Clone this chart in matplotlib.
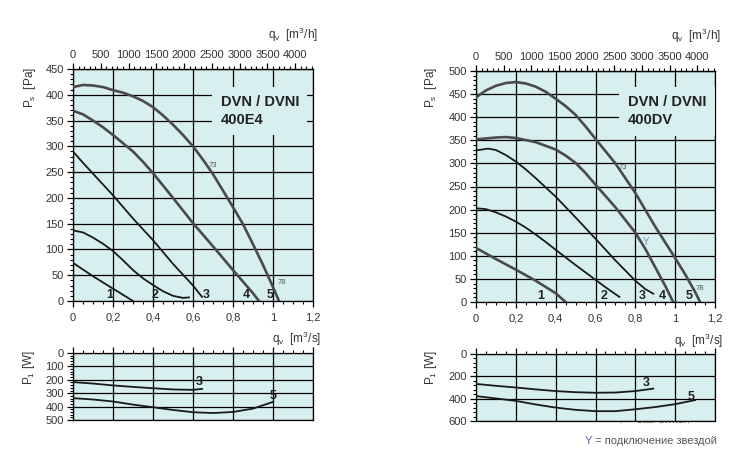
import matplotlib
matplotlib.use("Agg")
import numpy as np
import matplotlib.pyplot as plt
from matplotlib.ticker import MultipleLocator, FuncFormatter

plt.rcParams['font.family'] = ['Liberation Sans', 'DejaVu Sans']

# --- DVN / DVNI 400E4 (left) ---
e4_q1 = [0, 0.05, 0.1, 0.15, 0.2, 0.25, 0.3]
e4_p1 = [74, 61, 48, 36, 24, 12, 0]
e4_q2 = [0, 0.05, 0.1, 0.15, 0.2, 0.25, 0.3, 0.35, 0.4, 0.45, 0.5, 0.55, 0.58]
e4_p2 = [137, 133, 123, 111, 97, 79, 60, 44, 31, 19, 10, 6, 7]
e4_q3 = [0, 0.05, 0.1, 0.15, 0.2, 0.3, 0.4, 0.5, 0.6, 0.645]
e4_p3 = [290, 268, 247, 226, 205, 160, 118, 72, 30, 8]
e4_q4 = [0, 0.05, 0.1, 0.15, 0.2, 0.25, 0.3, 0.35, 0.4, 0.5, 0.6, 0.7, 0.8, 0.9, 0.93]
e4_p4 = [369, 362, 350, 337, 322, 306, 290, 270, 248, 200, 151, 106, 60, 15, 0]
e4_q5 = [0, 0.05, 0.1, 0.15, 0.2, 0.25, 0.3, 0.35, 0.4, 0.45, 0.5, 0.55, 0.6,
         0.65, 0.7, 0.75, 0.8, 0.85, 0.9, 0.95, 1.0, 1.03]
e4_p5 = [415, 419, 418, 415, 409, 404, 397, 388, 376, 360, 342, 322, 300,
         274, 246, 214, 182, 149, 110, 70, 27, 0]

e4_pw_q3 = [0, 0.1, 0.2, 0.3, 0.4, 0.5, 0.6, 0.645]
e4_pw_3 = [217, 228, 242, 253, 263, 272, 275, 268]
e4_pw_q5 = [0, 0.1, 0.2, 0.3, 0.4, 0.5, 0.6, 0.7, 0.8, 0.9, 1.0]
e4_pw_5 = [337, 347, 362, 385, 405, 425, 442, 448, 440, 415, 365]

# --- DVN / DVNI 400DV (right) ---
dv_q1 = [0, 0.1, 0.2, 0.3, 0.4, 0.45]
dv_p1 = [117, 93, 70, 46, 19, 0]
dv_q2 = [0, 0.05, 0.1, 0.15, 0.2, 0.25, 0.3, 0.35, 0.4, 0.5, 0.6, 0.65, 0.72]
dv_p2 = [203, 201, 194, 185, 174, 161, 146, 130, 113, 80, 48, 32, 11]
dv_q3 = [0, 0.06, 0.1, 0.15, 0.2, 0.25, 0.3, 0.4, 0.5, 0.6, 0.7, 0.8, 0.85, 0.89]
dv_p3 = [328, 332, 329, 318, 304, 287, 268, 228, 183, 137, 90, 46, 28, 18]
dv_q4 = [0, 0.1, 0.15, 0.2, 0.3, 0.4, 0.45, 0.5, 0.55, 0.6, 0.7, 0.8, 0.85, 0.9, 0.95, 0.99]
dv_p4 = [352, 356, 357, 355, 346, 330, 317, 301, 279, 254, 205, 150, 115, 75, 35, 0]
dv_q5 = [0, 0.05, 0.1, 0.15, 0.2, 0.25, 0.3, 0.35, 0.4, 0.45, 0.5, 0.55, 0.6,
         0.7, 0.8, 0.9, 1.0, 1.05, 1.1, 1.125]
dv_p5 = [443, 458, 468, 474, 476, 473, 466, 455, 440, 424, 405, 380, 353,
         300, 236, 163, 95, 60, 22, 0]

dv_pw_q3 = [0, 0.1, 0.2, 0.3, 0.4, 0.5, 0.6, 0.7, 0.8, 0.89]
dv_pw_3 = [268, 285, 300, 317, 332, 342, 347, 345, 332, 310]
dv_pw_q5 = [0, 0.1, 0.2, 0.3, 0.4, 0.5, 0.6, 0.7, 0.8, 0.9, 1.0, 1.1]
dv_pw_5 = [377, 398, 420, 452, 480, 500, 512, 512, 495, 475, 449, 413]

BG = '#d7efee'
DARK = '#4a4a4a'
FS = 8
W, H = 752, 455


def fbox(x0, y0, x1, y1):
    # pixel box -> figure coords
    return [x0 / W, 1 - y1 / H, (x1 - x0) / W, (y1 - y0) / H]


comma = FuncFormatter(lambda v, p: f"{v:g}".replace('.', ','))


def main_panel(fig, box, ymax, title, tpos, curves, nums, small):
    ax = fig.add_axes(box)
    ax.set_facecolor(BG)
    ax.set_xlim(0, 1.2)
    ax.set_ylim(0, ymax)
    ax.xaxis.set_major_locator(MultipleLocator(0.2))
    ax.xaxis.set_minor_locator(MultipleLocator(0.05))
    ax.yaxis.set_major_locator(MultipleLocator(50))
    ax.yaxis.set_minor_locator(MultipleLocator(10))
    ax.xaxis.set_major_formatter(comma)
    ax.tick_params(which='major', direction='out', length=4.5, width=0.9,
                   labelsize=FS, pad=4, colors='black', labelcolor='#333333')
    ax.tick_params(which='minor', direction='out', length=2.4, width=0.8)
    ax.tick_params(axis='y', pad=2)
    ax.grid(True, which='major', color='black', lw=0.9)
    ax.set_axisbelow(True)
    for s in ax.spines.values():
        s.set_linewidth(0.9)
    for q, p, col, lw in curves:
        ax.plot(q, p, color=col, lw=lw, zorder=3, solid_joinstyle='round')
    for x, y, t in nums:
        ax.text(x, y, t, fontsize=FS + 1, fontweight='bold', color='#222222',
                ha='center', va='center', zorder=4)
    for x, y, t, c in small:
        ax.text(x, y, t, fontsize=5.5 if t != 'Y' else 7, color=c,
                ha='center', va='center', zorder=4)
    ax.text(tpos[0], tpos[1], title, transform=ax.transAxes, fontsize=10.5,
            fontweight='bold', color='#222222', ha='left', va='center',
            linespacing=1.35, zorder=5,
            bbox=dict(facecolor=BG, edgecolor='none', pad=6))
    top = ax.secondary_xaxis('top', functions=(lambda q: q * 3600, lambda h: h / 3600))
    top.xaxis.set_major_locator(MultipleLocator(500))
    top.xaxis.set_minor_locator(MultipleLocator(100))
    top.tick_params(which='major', direction='out', length=4.5, width=0.9,
                    labelsize=FS, pad=2, labelcolor='#333333')
    top.tick_params(which='minor', direction='out', length=2.4, width=0.8)
    return ax


def power_panel(fig, box, ymax, step, curves, nums):
    ax = fig.add_axes(box)
    ax.set_facecolor(BG)
    ax.set_xlim(0, 1.2)
    ax.set_ylim(ymax, 0)
    ax.xaxis.tick_top()
    ax.xaxis.set_major_locator(MultipleLocator(0.2))
    ax.xaxis.set_minor_locator(MultipleLocator(0.05))
    ax.yaxis.set_major_locator(MultipleLocator(step))
    ax.yaxis.set_minor_locator(MultipleLocator(step / 5))
    ax.tick_params(axis='x', which='both', labeltop=False, labelbottom=False)
    ax.tick_params(which='major', direction='out', length=4.5, width=0.9,
                   labelsize=FS, pad=2, labelcolor='#333333')
    ax.tick_params(which='minor', direction='out', length=2.4, width=0.8)
    ax.grid(True, which='major', color='black', lw=0.9)
    ax.set_axisbelow(True)
    for s in ax.spines.values():
        s.set_linewidth(0.9)
    for q, p in curves:
        ax.plot(q, p, color='#1a1a1a', lw=1.3, zorder=3)
    for x, y, t in nums:
        ax.text(x, y, t, fontsize=FS + 1, fontweight='bold', color='#222222',
                ha='center', va='center', zorder=4)
    return ax


fig = plt.figure(figsize=(W / 100, H / 100), dpi=100)

main_panel(fig, fbox(73, 69, 313, 301), 450, 'DVN / DVNI\n400E4', (0.615, 0.82),
           [(e4_q1, e4_p1, '#1a1a1a', 1.3), (e4_q2, e4_p2, '#1a1a1a', 1.3),
            (e4_q3, e4_p3, '#1a1a1a', 1.3), (e4_q4, e4_p4, DARK, 1.9),
            (e4_q5, e4_p5, DARK, 1.9)],
           [(0.185, 12, '1'), (0.41, 12, '2'), (0.665, 12, '3'),
            (0.865, 12, '4'), (0.985, 12, '5')],
           [(0.70, 262, '73', '#555555'), (1.045, 36, '78', '#555555')])

main_panel(fig, fbox(476, 71, 715, 302), 500, 'DVN / DVNI\n400DV', (0.635, 0.825),
           [(dv_q1, dv_p1, DARK, 1.9), (dv_q2, dv_p2, '#1a1a1a', 1.3),
            (dv_q3, dv_p3, '#1a1a1a', 1.3), (dv_q4, dv_p4, DARK, 1.9),
            (dv_q5, dv_p5, DARK, 1.9)],
           [(0.326, 14, '1'), (0.644, 14, '2'), (0.837, 14, '3'),
            (0.937, 14, '4'), (1.068, 14, '5')],
           [(0.736, 292, '73', '#555555'), (1.125, 30, '78', '#555555'),
            (0.853, 129, 'Y', '#8a7fc0')])

power_panel(fig, fbox(73, 353, 313, 420), 500, 100,
            [(e4_pw_q3, e4_pw_3), (e4_pw_q5, e4_pw_5)],
            [(0.63, 215, '3'), (1.0, 318, '5')])

power_panel(fig, fbox(476, 354, 715, 421), 600, 200,
            [(dv_pw_q3, dv_pw_3), (dv_pw_q5, dv_pw_5)],
            [(0.853, 257, '3'), (1.078, 383, '5')])

# axis titles
lbl = dict(fontsize=FS + 0.5, color='#333333')
for xr, yr in [(318, 35), (721, 36)]:
    fig.text(xr / W, 1 - yr / H, r'q$_\mathregular{v}$  [m$^\mathregular{3}$/h]',
             ha='right', va='center', **lbl)
for xr, yr in [(321, 339), (723, 341)]:
    fig.text(xr / W, 1 - yr / H, r'q$_\mathregular{v}$  [m$^\mathregular{3}$/s]',
             ha='right', va='center', **lbl)
for xr, yr in [(30, 88), (431, 88)]:
    fig.text(xr / W, 1 - yr / H, r'P$_\mathregular{s}$  [Pa]', rotation=90,
             ha='center', va='center', **lbl)
for xr, yr in [(29, 368), (431, 368)]:
    fig.text(xr / W, 1 - yr / H, r'P$_\mathregular{1}$ [W]', rotation=90,
             ha='center', va='center', **lbl)

# footnote (the English one is half hidden behind the power panel)
fig.text(653 / W, 1 - 425 / H, 'Y = star switch', fontsize=8, color='#666666',
         ha='center', va='bottom', zorder=-1)
fig.text(585 / W, 1 - 441 / H, 'Y', fontsize=8, color='#6a5aa8',
         ha='left', va='center')
fig.text(592 / W, 1 - 441 / H, ' = подключение звездой', fontsize=8,
         color='#555555', ha='left', va='center')

fig.savefig('out.png', dpi=100)
